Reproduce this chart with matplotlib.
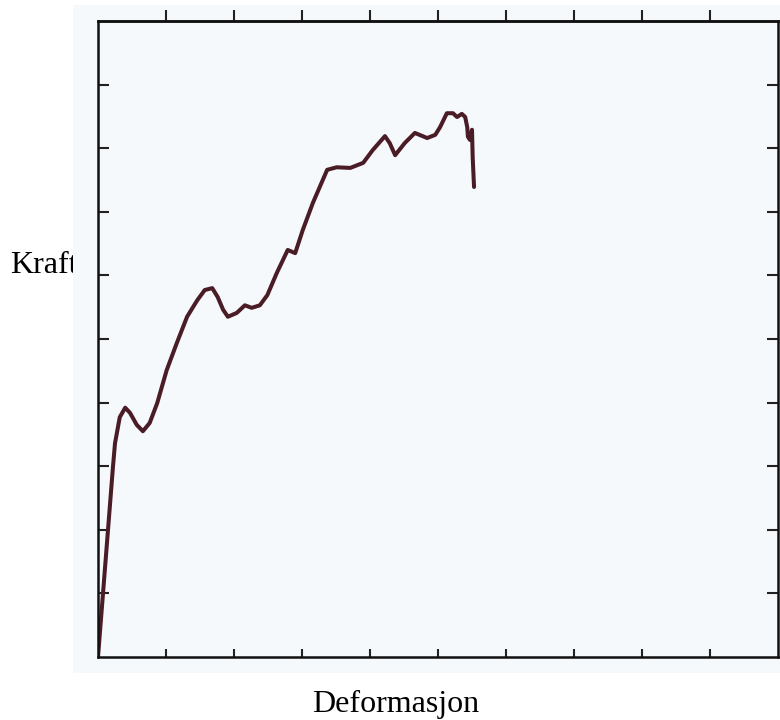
import matplotlib
matplotlib.use("Agg")
import matplotlib.pyplot as plt
from matplotlib.patches import Rectangle

deformation = [0.00, 0.22, 0.25, 0.32, 0.40, 0.47, 0.57, 0.66, 0.76, 0.87, 1.01, 1.16,
               1.31, 1.46, 1.57, 1.68, 1.76, 1.84, 1.91, 2.04, 2.16, 2.26, 2.38, 2.49,
               2.63, 2.79, 2.90, 3.01, 3.16, 3.37, 3.51, 3.71, 3.90, 4.04, 4.22, 4.29,
               4.37, 4.51, 4.66, 4.84, 4.96, 5.03, 5.13, 5.22, 5.28, 5.35, 5.40, 5.43,
               5.44, 5.47, 5.50, 5.51, 5.53]
force = [0.00, 2.99, 3.36, 3.77, 3.92, 3.84, 3.65, 3.55, 3.68, 3.99, 4.51, 4.94,
         5.35, 5.61, 5.77, 5.80, 5.66, 5.46, 5.35, 5.41, 5.53, 5.49, 5.53, 5.69,
         6.04, 6.40, 6.35, 6.71, 7.14, 7.66, 7.70, 7.69, 7.77, 7.97, 8.19, 8.08,
         7.89, 8.08, 8.24, 8.16, 8.21, 8.33, 8.55, 8.55, 8.49, 8.54, 8.49, 8.33,
         8.18, 8.13, 8.29, 7.86, 7.39]
tick_positions = [1, 2, 3, 4, 5, 6, 7, 8, 9]
x_label = "Deformasjon"
y_label = "Kraft"

W, H = 780, 720
fig = plt.figure(figsize=(W / 100, H / 100), dpi=100)
fig.patch.set_facecolor("white")

serif = ["Liberation Serif", "DejaVu Serif"]

# y label (partly covered by the scanned area)
fig.text(10 / W, (H - 273) / H, y_label, fontsize=23, family=serif,
         ha="left", va="baseline", color="black", zorder=0.2)

# scanned paper area
fig.patches.append(Rectangle((73 / W, (H - 673) / H), (W - 73) / W, (673 - 5) / H,
                             transform=fig.transFigure, facecolor="#f5f9fc",
                             edgecolor="none", zorder=0.5))

ax = fig.add_axes([98 / W, (H - 657) / H, (778 - 98) / W, (657 - 21) / H])
ax.set_zorder(1)
ax.set_facecolor("#f5f9fc")
ax.plot(deformation, force, color="#4a1c26", linewidth=2.9, solid_joinstyle="round",
        solid_capstyle="round")
ax.set_xlim(0, 10)
ax.set_ylim(0, 10)

for s in ax.spines.values():
    s.set_linewidth(1.8)
    s.set_color("#111111")

ax.set_xticks(tick_positions)
ax.set_yticks(tick_positions)
ax.tick_params(axis="x", which="major", direction="in", length=6, width=1.5,
               top=False, bottom=True, labelbottom=False, labeltop=False, color="#222222")
ax.tick_params(axis="y", which="major", direction="in", length=8, width=1.5,
               left=True, right=True, labelleft=False, labelright=False, color="#222222")

# top ticks point outward
sec = ax.secondary_xaxis("top")
sec.set_xticks(tick_positions)
sec.tick_params(axis="x", direction="out", length=8, width=1.5, labeltop=False,
                color="#222222")
sec.spines["top"].set_linewidth(1.8)
sec.spines["top"].set_color("#111111")

fig.text(312 / W, (H - 712) / H, x_label, fontsize=23, family=serif,
         ha="left", va="baseline", color="black")

fig.savefig("out.png", dpi=100, facecolor="white")
